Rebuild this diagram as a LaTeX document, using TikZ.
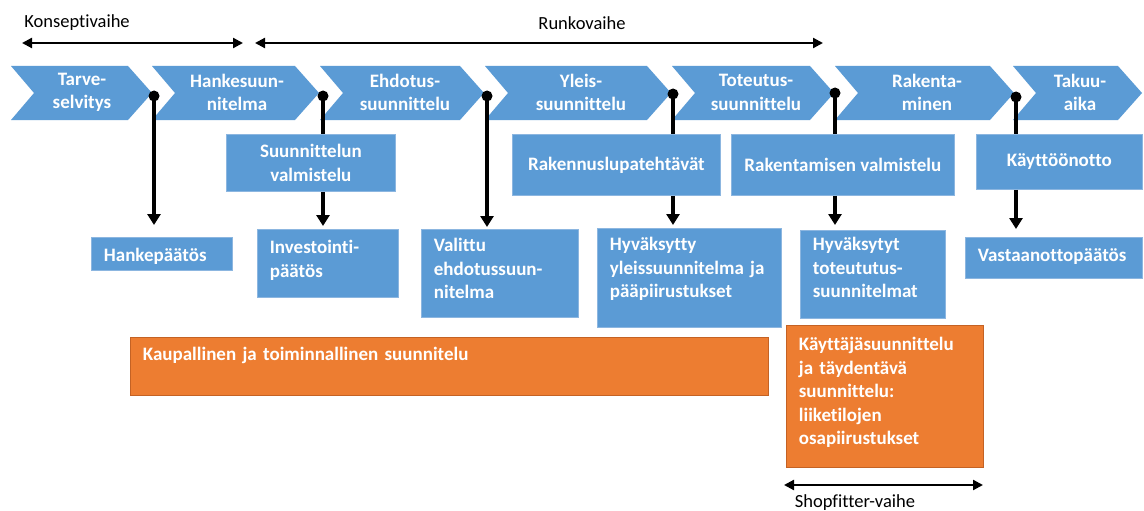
\documentclass[tikz,border=0pt]{standalone}
\usepackage{fontspec}
\setmainfont{Carlito}[Ligatures={NoCommon,NoRare,NoContextual},RawFeature={-liga;-clig;-dlig;-calt}]
\usetikzlibrary{arrows.meta}
\definecolor{cblue}{RGB}{91,155,213}
\definecolor{cblueedge}{RGB}{140,182,224}
\definecolor{corange}{RGB}{237,125,49}
\definecolor{corangeedge}{RGB}{196,98,36}
\begin{document}
\begin{tikzpicture}[x=1pt,y=-1pt,
  bfont/.style={font=\fontsize{19}{23.5}\selectfont\bfseries},
  chevtext/.style={bfont, text=white, align=center, inner sep=0pt},
  bluebox/.style={bfont, fill=cblue, draw=cblueedge, line width=0.8pt, text=white, anchor=north west, inner ysep=0pt},
  cbox/.style={bluebox, align=center},
  lbox/.style={bluebox, align=left, inner xsep=12.5pt},
  obox/.style={lbox, fill=corange, draw=corangeedge},
  jdot/.style={circle, fill=black, inner sep=0pt, minimum size=11pt},
  vline/.style={line width=3.4pt},
  varrow/.style={line width=3.4pt, -{Triangle[width=13pt,length=11pt]}},
  phasearrow/.style={line width=2.2pt, {Triangle[width=10pt,length=10pt]}-{Triangle[width=10pt,length=10pt]}},
  phase/.style={font=\fontsize{18.5}{22}\selectfont, text=black, inner sep=0pt}
]
\fill[white] (0,0) rectangle (1144,511);
\useasboundingbox (0,0) rectangle (1144,511);

% phase labels and spans
\node[phase] (konsept) at (77,23) {Konseptivaihe};
\node[phase] (runko) at (582,23) {Runkovaihe};
\node[phase] (shop) at (855,503) {Shopfitter-vaihe};
\coordinate (k1) at (22,43);
\coordinate (k2) at (243,43);
\coordinate (r1) at (255,43);
\coordinate (r2) at (823,43);
\coordinate (s1) at (784,485);
\coordinate (s2) at (983,485);
\draw[phasearrow] (k1) -- (k2);
\draw[phasearrow] (r1) -- (r2);
\draw[phasearrow] (s1) -- (s2);

% chevrons
\foreach \L/\R in {11/128,152/295,320/460,485/647,672/810,835/990,1013/1118}
  \fill[cblue] (\L,66) -- (\R,66) -- (\R+24,93) -- (\R,120) -- (\L,120) -- (\L+23,93) -- cycle;
\node[chevtext] (c1) at (82,92.5) {Tarve-\\selvitys};
\node[chevtext] (c2) at (237,92.5) {Hankesuun-\\nitelma};
\node[chevtext] (c3) at (405,92.5) {Ehdotus-\\suunnittelu};
\node[chevtext] (c4) at (581,92.5) {Yleis-\\suunnittelu};
\node[chevtext] (c5) at (756,92.5) {Toteutus-\\suunnittelu};
\node[chevtext] (c6) at (927,92.5) {Rakenta-\\minen};
\node[chevtext] (c7) at (1080,92.5) {Takuu-\\aika};

% activity boxes
\node[cbox, minimum width=169pt, minimum height=57pt] (suvalm) at (226,134) {Suunnittelun\\valmistelu};
\node[cbox, minimum width=208pt, minimum height=61pt] (rlupa) at (512,134) {Rakennuslupatehtävät};
\node[cbox, minimum width=223pt, minimum height=61pt] (rval) at (731,134) {Rakentamisen valmistelu};
\node[cbox, minimum width=166pt, minimum height=55pt] (kotto) at (976,134) {Käyttöönotto};

% decision boxes
\node[lbox, text width=116pt, text height=24.5pt, text depth=8.5pt] (hanke) at (91,237) {Hankepäätös};
\node[lbox, text width=116pt, text height=24.5pt, text depth=43.5pt] (invest) at (257,229) {Investointi-\\päätös};
\node[lbox, text width=132pt, text height=22.5pt, text depth=65.5pt] (valittu) at (421,229) {Valittu\\ehdotussuun-\\nitelma};
\node[lbox, text width=159pt, text height=22.5pt, text depth=76.5pt] (hyvy) at (597,228) {Hyväksytty\\yleissuunnitelma ja\\pääpiirustukset};
\node[lbox, text width=120pt, text height=20.5pt, text depth=67.5pt] (hyvt) at (800,230) {Hyväksytyt\\toteututus-\\suunnitelmat};
\node[lbox, text width=152pt, text height=24.5pt, text depth=16.5pt] (vasta) at (965,237) {Vastaanottopäätös};

% orange boxes
\node[obox, text width=613pt, text height=23.5pt, text depth=34.5pt] (kaup) at (130,337) {Kaupallinen ja toiminnallinen suunnitelu};
\node[obox, text width=172pt, text height=25.5pt, text depth=116.5pt] (kayt) at (786,325) {Käyttäjäsuunnittelu\\ja täydentävä\\suunnittelu:\\liiketilojen\\osapiirustukset};

% junction dots
\node[jdot] (d1) at (154,96) {};
\node[jdot] (d2) at (323,96) {};
\node[jdot] (d3) at (487,96) {};
\node[jdot] (d4) at (673,94) {};
\node[jdot] (d5) at (835,93) {};
\node[jdot] (d6) at (1016,97) {};

% connectors
\draw[varrow, shorten >=12pt] (d1.center) -- (d1.center |- hanke.north);
\draw[vline] (d2.center) -- (d2.center |- suvalm.north);
\draw[varrow, shorten >=3pt] (d2.center |- suvalm.south) -- (d2.center |- invest.north);
\draw[varrow, shorten >=2pt] (d3.center) -- (d3.center |- valittu.north);
\draw[vline] (d4.center) -- (d4.center |- rlupa.north);
\draw[varrow, shorten >=3pt] (d4.center |- rlupa.south) -- (d4.center |- hyvy.north);
\draw[vline] (d5.center) -- (d5.center |- rval.north);
\draw[varrow, shorten >=5pt] (d5.center |- rval.south) -- (d5.center |- hyvt.north);
\draw[vline] (d6.center) -- (d6.center |- kotto.north);
\draw[varrow, shorten >=8pt] (d6.center |- kotto.south) -- (d6.center |- vasta.north);
\end{tikzpicture}
\end{document}
